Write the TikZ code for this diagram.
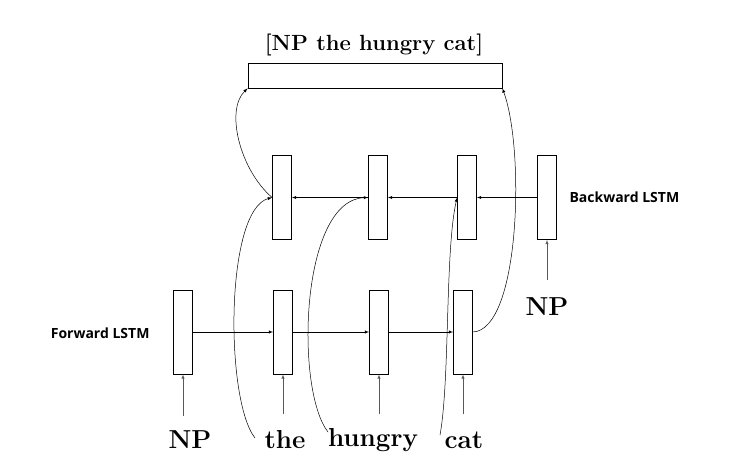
\documentclass[tikz,border=0pt]{standalone}
\usepackage{fontspec}
\newfontfamily\labelfont{Open Sans}
\begin{document}
\begin{tikzpicture}[x=1pt,y=-1pt,
  cell/.style={draw, line width=0.8pt, minimum width=19pt, minimum height=84pt, inner sep=0pt},
  word/.style={font=\fontsize{26}{30}\selectfont\bfseries},
  lab/.style={font=\labelfont\fontsize{14}{16}\selectfont\bfseries},
  flow/.style={-latex, line width=0.5pt}]
	\useasboundingbox (0,0) rectangle (747,466);

	% top phrase
	\node [font=\fontsize{22}{26}\selectfont\bfseries] (title) at (374,45) {[NP the hungry cat]};
	\node [draw, line width=0.8pt, minimum width=254pt, minimum height=25pt, inner sep=0pt] (bar) at (375,75.5) {};

	% backward row
	\node [cell] (b1) at (282,197.5) {};
	\node [cell] (b2) at (378,197.5) {};
	\node [cell] (b3) at (467,197.5) {};
	\node [cell] (b4) at (547,197.5) {};
	\node [lab, anchor=west] (blab) at (566,197) {Backward LSTM};

	% forward row
	\node [cell] (f1) at (183,332) {};
	\node [cell] (f2) at (283,332) {};
	\node [cell] (f3) at (379,332) {};
	\node [cell] (f4) at (463,332) {};
	\node [lab, anchor=east] (flab) at (153,333) {Forward LSTM};

	% words
	\node [word] (w1) at (190,440) {NP};
	\node [word] (w2) at (285,440) {the};
	\node [word] (w3) at (373,440) {hungry};
	\node [word] (w4) at (464,440) {cat};
	\node [word] (w5) at (547,307) {NP};

	\foreach \c/\d in {f1/42, f2/40, f3/40, f4/40, b4/40}
		\draw [flow, gray!70!black] (\c.south) ++(0,\d) coordinate (s\c) -- (\c.south);
	\foreach \a/\b in {f1/f2, f2/f3, f3/f4}
		\draw [flow] (\a.east) -- (\b.west);
	\foreach \a/\b in {b4/b3, b3/b2, b2/b1}
		\draw [flow] (\a.west) -- (\b.east);

	% concatenation curves
	\coordinate (c2) at (255,438);
	\coordinate (c3) at (328,432);
	\coordinate (c4) at (440,435);
	\draw [flow] (c2) .. controls (225,400) and (225,210) .. (b1.west);
	\draw [flow] (c3) .. controls (295,390) and (300,200) .. (b2.west);
	\draw [flow] (c4) .. controls (450,380) and (445,250) .. (b3.west);
	\draw [flow] (b1.west) .. controls (240,170) and (225,110) .. (bar.south west);
	\draw [flow] (f4.east) .. controls (520,330) and (525,150) .. (bar.south east);
\end{tikzpicture}
\end{document}
